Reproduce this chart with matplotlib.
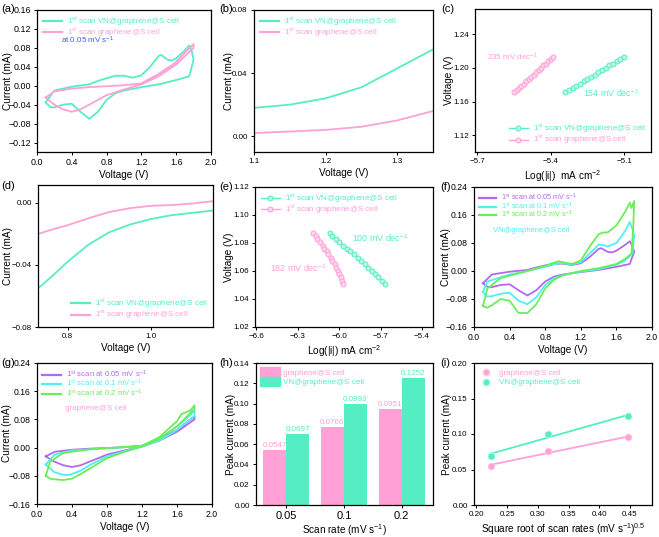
import numpy as np
import matplotlib
matplotlib.use("Agg")
import matplotlib.pyplot as plt
from matplotlib.patches import Patch
from matplotlib.lines import Line2D

plt.rcParams['font.family'] = ['Liberation Sans', 'DejaVu Sans']
plt.rcParams['mathtext.fontset'] = 'custom'
plt.rcParams['mathtext.rm'] = 'Liberation Sans'
plt.rcParams['mathtext.it'] = 'Liberation Sans'

teal = '#55eec4'
pink = '#ffa0d6'
purple = '#b468f0'
cyan = '#4ef0f0'
green = '#6aee58'
blue = '#4858ee'

W, H = 659, 537
fig = plt.figure(figsize=(W / 100, H / 100), dpi=100)

TICK = 6.2
LAB = 7.2
LEG = 5.8

# ---------------- data ----------------
# (a) CV at 0.05 mV/s, VN@graphene@S (anodic then cathodic)
a_vn_v = [0.1, 0.2, 0.4, 0.6, 0.7, 0.8, 0.9, 1.0, 1.1, 1.2, 1.3, 1.4, 1.43, 1.5, 1.55, 1.6, 1.7, 1.75, 1.78, 1.8,
          1.8, 1.75, 1.6, 1.4, 1.2, 1.0, 0.9, 0.8, 0.7, 0.6, 0.5, 0.4, 0.3, 0.2, 0.15, 0.1]
a_vn_i = [-0.035, -0.01, -0.002, 0.003, 0.01, 0.016, 0.021, 0.021, 0.017, 0.022, 0.04, 0.063, 0.065, 0.055, 0.053,
          0.058, 0.075, 0.085, 0.072, 0.055,
          0.055, 0.02, 0.012, 0.003, -0.003, -0.01, -0.016, -0.03, -0.055, -0.07, -0.055, -0.038, -0.04, -0.046,
          -0.045, -0.035]
a_g_v = [0.1, 0.2, 0.4, 0.6, 0.8, 1.0, 1.2, 1.4, 1.6, 1.7, 1.8,
         1.8, 1.6, 1.4, 1.2, 1.0, 0.8, 0.6, 0.5, 0.4, 0.3, 0.2, 0.1]
a_g_i = [-0.025, -0.012, -0.006, -0.003, -0.001, 0.001, 0.005, 0.025, 0.05, 0.07, 0.088,
         0.08, 0.045, 0.02, 0.003, -0.008, -0.02, -0.04, -0.05, -0.055, -0.05, -0.04, -0.025]

# (b) anodic onset region
b_v = [1.10, 1.15, 1.20, 1.25, 1.30, 1.35]
b_vn = [0.018, 0.020, 0.024, 0.031, 0.043, 0.055]
b_g = [0.002, 0.003, 0.004, 0.006, 0.010, 0.016]

# (c) Tafel, anodic
c_g_x = [-5.55, -5.54, -5.53, -5.52, -5.51, -5.50, -5.49, -5.48, -5.47, -5.46, -5.45, -5.44, -5.43, -5.42, -5.41, -5.40, -5.39]
c_g_y = [1.171, 1.174, 1.176, 1.179, 1.181, 1.184, 1.187, 1.189, 1.192, 1.195, 1.197, 1.200, 1.203, 1.205, 1.208, 1.211, 1.213]
c_vn_x = [-5.34, -5.325, -5.31, -5.295, -5.28, -5.265, -5.25, -5.235, -5.22, -5.205, -5.19, -5.175, -5.16, -5.145, -5.13, -5.115, -5.10]
c_vn_y = [1.171, 1.174, 1.176, 1.179, 1.181, 1.184, 1.187, 1.189, 1.192, 1.195, 1.197, 1.200, 1.203, 1.205, 1.208, 1.211, 1.213]

# (d) cathodic region
d_v = [0.73, 0.76, 0.80, 0.85, 0.90, 0.95, 1.00, 1.05, 1.10, 1.15]
d_vn = [-0.055, -0.048, -0.038, -0.027, -0.019, -0.014, -0.0105, -0.008, -0.0065, -0.005]
d_g = [-0.020, -0.0175, -0.0145, -0.010, -0.006, -0.0035, -0.002, -0.0015, -0.0005, 0.001]

# (e) Tafel, cathodic
e_vn_x = [-6.07, -6.05, -6.02, -6.00, -5.97, -5.94, -5.92, -5.89, -5.86, -5.84, -5.81, -5.79, -5.76, -5.74, -5.72, -5.69, -5.67]
e_vn_y = [1.087, 1.085, 1.083, 1.081, 1.078, 1.076, 1.074, 1.072, 1.069, 1.067, 1.065, 1.062, 1.060, 1.058, 1.056, 1.053, 1.051]
e_g_x = [-6.19, -6.17, -6.16, -6.14, -6.12, -6.11, -6.09, -6.08, -6.06, -6.05, -6.03, -6.02, -6.01, -6.00, -5.99, -5.98, -5.97]
e_g_y = [1.087, 1.085, 1.083, 1.081, 1.078, 1.076, 1.074, 1.072, 1.069, 1.067, 1.065, 1.062, 1.060, 1.058, 1.056, 1.053, 1.051]

# (f) VN@graphene@S at three scan rates
f1_v, f1_i = a_vn_v, a_vn_i
f2_v = [0.1, 0.15, 0.4, 0.6, 0.8, 0.95, 1.0, 1.1, 1.2, 1.3, 1.4, 1.45, 1.5, 1.6, 1.7, 1.75, 1.78, 1.8,
        1.8, 1.78, 1.7, 1.6, 1.4, 1.2, 1.0, 0.9, 0.8, 0.7, 0.6, 0.5, 0.4, 0.3, 0.2, 0.15, 0.1]
f2_i = [-0.06, -0.03, -0.01, 0.0, 0.012, 0.022, 0.022, 0.018, 0.025, 0.05, 0.075, 0.075, 0.07, 0.08, 0.115,
        0.14, 0.12, 0.10,
        0.10, 0.05, 0.03, 0.018, 0.005, -0.002, -0.012, -0.02, -0.04, -0.075, -0.095, -0.085, -0.062, -0.065,
        -0.072, -0.073, -0.06]
f3_v = [0.1, 0.15, 0.3, 0.6, 0.8, 0.95, 1.0, 1.1, 1.2, 1.3, 1.4, 1.45, 1.5, 1.6, 1.7, 1.75, 1.77, 1.8,
        1.79, 1.77, 1.7, 1.6, 1.4, 1.2, 1.0, 0.9, 0.8, 0.7, 0.6, 0.5, 0.4, 0.3, 0.2, 0.15, 0.1]
f3_i = [-0.10, -0.05, -0.02, 0.0, 0.015, 0.028, 0.025, 0.02, 0.03, 0.07, 0.105, 0.11, 0.11, 0.13, 0.17, 0.195,
        0.18, 0.20,
        0.13, 0.05, 0.035, 0.02, 0.008, 0.0, -0.012, -0.025, -0.05, -0.095, -0.12, -0.12, -0.085, -0.08,
        -0.098, -0.105, -0.10]

# (g) graphene@S at three scan rates
g1_v, g1_i = a_g_v, a_g_i
g2_v = [0.1, 0.2, 0.4, 0.8, 1.2, 1.4, 1.6, 1.7, 1.8,
        1.8, 1.6, 1.4, 1.2, 1.0, 0.8, 0.6, 0.5, 0.4, 0.35, 0.3, 0.2, 0.1]
g2_i = [-0.048, -0.02, -0.008, -0.002, 0.005, 0.025, 0.06, 0.08, 0.105,
        0.09, 0.05, 0.02, 0.003, -0.01, -0.025, -0.05, -0.065, -0.075, -0.078, -0.077, -0.07, -0.048]
g3_v = [0.1, 0.15, 0.3, 0.6, 1.2, 1.4, 1.6, 1.65, 1.7, 1.75, 1.8,
        1.8, 1.6, 1.4, 1.2, 1.0, 0.8, 0.6, 0.5, 0.4, 0.3, 0.2, 0.15, 0.1]
g3_i = [-0.08, -0.04, -0.015, -0.005, 0.005, 0.03, 0.075, 0.095, 0.10, 0.105, 0.12,
        0.11, 0.06, 0.025, 0.003, -0.012, -0.03, -0.06, -0.075, -0.088, -0.092, -0.09, -0.088, -0.08]

# (h)/(i) peak currents
rates = ['0.05', '0.1', '0.2']
sqrt_rate = [0.2236, 0.3162, 0.4472]
peak_g = [0.0547, 0.0766, 0.0951]
peak_vn = [0.0697, 0.0993, 0.1252]

lab_vn = r'1$^{st}$ scan VN@graphene@S cell'
lab_g = r'1$^{st}$ scan graphene@S cell'
lab_r = [r'1$^{st}$ scan at 0.05 mV s$^{-1}$', r'1$^{st}$ scan at 0.1 mV s$^{-1}$',
         r'1$^{st}$ scan at 0.2 mV s$^{-1}$']

LW = 1.3
MK = dict(marker='o', ms=3.6, mew=0.7)


def add_ax(l, t, r, b, ylab_x, tick=TICK):
    ax = fig.add_axes([l / W, 1 - b / H, (r - l) / W, (b - t) / H])
    ax.tick_params(labelsize=tick, length=2.5, width=0.7, pad=2, direction='out')
    for s in ax.spines.values():
        s.set_linewidth(0.9)
    # y label centre given in figure pixels
    ax.yaxis.set_label_coords((ylab_x + 4 - l) / (r - l), 0.5)
    return ax


def color_legend(ax, handles, labels, colors, loc, spacing=-0.15, fs=LEG, **kw):
    leg = ax.legend(handles, labels, loc=loc, frameon=False, fontsize=fs,
                    handlelength=2.4, handletextpad=0.6, labelspacing=spacing, borderaxespad=0.3, **kw)
    for t, c in zip(leg.get_texts(), colors):
        t.set_color(c)
    return leg


def panel(x, y, s):
    fig.text(x / W, 1 - y / H, s, fontsize=8, ha='left', va='center')


cv_y = [-0.12, -0.08, -0.04, 0.00, 0.04, 0.08, 0.12, 0.16]

# (a)
ax = add_ax(37, 10, 211, 152, 9, tick=6.4)
ax.plot(a_vn_v, a_vn_i, color=teal, lw=LW)
ax.plot(a_g_v, a_g_i, color=pink, lw=LW)
ax.set_xlim(0, 2.0)
ax.set_ylim(-0.14, 0.16)
ax.set_xticks([0.0, 0.4, 0.8, 1.2, 1.6, 2.0])
ax.set_yticks(cv_y)
ax.set_xlabel('Voltage (V)', fontsize=LAB, labelpad=2)
ax.set_ylabel('Current (mA)', fontsize=LAB)
color_legend(ax, [Line2D([], [], color=teal, lw=1.6), Line2D([], [], color=pink, lw=1.6)],
             [lab_vn, lab_g], [teal, pink], 'upper left')
ax.text(0.28, 0.095, r'at 0.05 mV s$^{-1}$', color=blue, fontsize=LEG, va='center')
panel(1, 9, '(a)')

# (b)
ax = add_ax(254, 10, 433, 152, 230, tick=5.8)
ax.plot(b_v, b_vn, color=teal, lw=LW)
ax.plot(b_v, b_g, color=pink, lw=LW)
ax.set_xlim(1.1, 1.35)
ax.set_ylim(-0.01, 0.08)
ax.set_xticks([1.1, 1.2, 1.3])
ax.set_yticks([0.00, 0.04, 0.08])
ax.set_xlabel('Voltage (V)', fontsize=LAB, labelpad=2)
ax.set_ylabel('Current (mA)', fontsize=LAB)
color_legend(ax, [Line2D([], [], color=teal, lw=1.6), Line2D([], [], color=pink, lw=1.6)],
             [lab_vn, lab_g], [teal, pink], 'upper left')
panel(219, 9, '(b)')

# (c)
ax = add_ax(475, 9, 651, 152, 450, tick=5.8)
ax.plot(c_vn_x, c_vn_y, color=teal, lw=1, mfc='#b8f8e4', mec=teal, **MK)
ax.plot(c_g_x, c_g_y, color=pink, lw=1, mfc='#ffd6ee', mec=pink, **MK)
ax.set_xlim(-5.71, -4.99)
ax.set_ylim(1.10, 1.27)
ax.set_xticks([-5.7, -5.4, -5.1])
ax.set_yticks([1.12, 1.16, 1.20, 1.24])
ax.set_xlabel(r'Log(|i|)  mA cm$^{-2}$', fontsize=LAB, labelpad=2)
ax.set_ylabel('Voltage (V)', fontsize=LAB)
ax.text(-5.661, 1.213, r'235 mV dec$^{-1}$', color=pink, fontsize=5.8, va='center')
ax.text(-5.268, 1.170, r'154 mV dec$^{-1}$', color=teal, fontsize=6.4, va='center')
color_legend(ax, [Line2D([], [], color=teal, lw=1, mfc='#b8f8e4', mec=teal, **MK),
                  Line2D([], [], color=pink, lw=1, mfc='#ffd6ee', mec=pink, **MK)],
             [lab_vn, lab_g], [teal, pink], 'lower right')
panel(441, 9, '(c)')

# (d)
ax = add_ax(38, 185, 213, 327, 9, tick=5.8)
ax.plot(d_v, d_vn, color=teal, lw=LW)
ax.plot(d_v, d_g, color=pink, lw=LW)
ax.set_xlim(0.729, 1.149)
ax.set_ylim(-0.08, 0.0114)
ax.set_xticks([0.8, 1.0])
ax.set_yticks([-0.08, -0.04, 0.00])
ax.set_xlabel('Voltage (V)', fontsize=LAB, labelpad=2)
ax.set_ylabel('Current (mA)', fontsize=LAB)
color_legend(ax, [Line2D([], [], color=teal, lw=1.6), Line2D([], [], color=pink, lw=1.6)],
             [lab_vn, lab_g], [teal, pink], 'lower right')
panel(1, 186, '(d)')

# (e)
ax = add_ax(255, 187, 433, 327, 230, tick=5.8)
ax.plot(e_vn_x, e_vn_y, color=teal, lw=1, mfc='#b8f8e4', mec=teal, **MK)
ax.plot(e_g_x, e_g_y, color=pink, lw=1, mfc='#ffd6ee', mec=pink, **MK)
ax.set_xlim(-6.61, -5.32)
ax.set_ylim(1.02, 1.12)
ax.set_xticks([-6.6, -6.3, -6.0, -5.7, -5.4])
ax.set_yticks([1.02, 1.04, 1.06, 1.08, 1.10, 1.12])
ax.set_xlabel(r'Log(|i|) mA cm$^{-2}$', fontsize=LAB, labelpad=2)
ax.set_ylabel('Voltage (V)', fontsize=LAB)
ax.text(-5.907, 1.0836, r'100 mV dec$^{-1}$', color=teal, fontsize=6.4, va='center')
ax.text(-6.50, 1.062, r'182 mV dec$^{-1}$', color=pink, fontsize=6.4, va='center')
color_legend(ax, [Line2D([], [], color=teal, lw=1, mfc='#b8f8e4', mec=teal, **MK),
                  Line2D([], [], color=pink, lw=1, mfc='#ffd6ee', mec=pink, **MK)],
             [lab_vn, lab_g], [teal, pink], 'upper left')
panel(219, 187, '(e)')

# (f)
ax = add_ax(474, 187, 652, 327, 447, tick=6.2)
ax.plot(f1_v, f1_i, color=purple, lw=LW)
ax.plot(f2_v, f2_i, color=cyan, lw=LW)
ax.plot(f3_v, f3_i, color=green, lw=LW)
ax.set_xlim(0, 2.0)
ax.set_ylim(-0.16, 0.24)
ax.set_xticks([0.0, 0.4, 0.8, 1.2, 1.6, 2.0])
ax.set_yticks([-0.16, -0.08, 0.00, 0.08, 0.16, 0.24])
ax.set_xlabel('Voltage (V)', fontsize=LAB, labelpad=2)
ax.set_ylabel('Current (mA)', fontsize=LAB)
color_legend(ax, [Line2D([], [], color=c, lw=1.6) for c in (purple, cyan, green)],
             lab_r, [purple, cyan, green], 'upper left', spacing=-0.38, fs=5.2)
ax.text(0.21, 0.117, 'VN@graphene@S cell', color=cyan, fontsize=5.4, va='center')
panel(440, 187, '(f)')

# (g)
ax = add_ax(37, 363, 212, 504, 8, tick=6.2)
ax.plot(g1_v, g1_i, color=purple, lw=LW)
ax.plot(g2_v, g2_i, color=cyan, lw=LW)
ax.plot(g3_v, g3_i, color=green, lw=LW)
ax.set_xlim(0, 2.0)
ax.set_ylim(-0.16, 0.24)
ax.set_xticks([0.0, 0.4, 0.8, 1.2, 1.6, 2.0])
ax.set_yticks([-0.16, -0.08, 0.00, 0.08, 0.16, 0.24])
ax.set_xlabel('Voltage (V)', fontsize=LAB, labelpad=2)
ax.set_ylabel('Current (mA)', fontsize=LAB)
color_legend(ax, [Line2D([], [], color=c, lw=1.6) for c in (purple, cyan, green)],
             lab_r, [purple, cyan, green], 'upper left', spacing=-0.2, fs=5.6)
ax.text(0.32, 0.11, 'graphene@S cell', color=pink, fontsize=LEG, va='center')
panel(1, 363, '(g)')

# (h)
ax = add_ax(256, 363, 433, 505, 232, tick=5.8)
xpos = np.arange(len(rates))
bw = 0.4
ax.bar(xpos - bw / 2, peak_g, bw, color=pink)
ax.bar(xpos + bw / 2, peak_vn, bw, color=teal)
for x, v in zip(xpos, peak_g):
    ax.text(x - bw / 2, v + 0.0008, f'{v:.4f}', color=pink, fontsize=LEG, ha='center', va='bottom')
for x, v in zip(xpos, peak_vn):
    ax.text(x + bw / 2, v + 0.0008, f'{v:.4f}', color=teal, fontsize=LEG, ha='center', va='bottom')
ax.set_xlim(-0.52, 2.54)
ax.set_ylim(0, 0.14)
ax.set_xticks(xpos)
ax.set_xticklabels(rates, fontsize=8)
ax.set_yticks(np.arange(0, 0.141, 0.02))
ax.set_yticklabels([f'{v:.2f}' for v in np.arange(0, 0.141, 0.02)])
ax.set_xlabel(r'Scan rate (mV s$^{-1}$)', fontsize=LAB, labelpad=0.5)
ax.set_ylabel('Peak current (mA)', fontsize=LAB)
leg = ax.legend([Patch(color=pink), Patch(color=teal)], ['graphene@S cell', 'VN@graphene@S cell'],
                loc='upper left', frameon=False, fontsize=LEG, handlelength=2.4, handleheight=1.35,
                handletextpad=0.4, labelspacing=0.0, borderaxespad=0.15)
for t, c in zip(leg.get_texts(), [pink, teal]):
    t.set_color(c)
panel(219, 363, '(h)')

# (i)
ax = add_ax(474, 363, 652, 505, 448, tick=5.8)
xs = np.array(sqrt_rate)
kg = np.polyfit(xs, peak_g, 1)
kv = np.polyfit(xs, peak_vn, 1)
ax.plot(xs, np.polyval(kg, xs), color=pink, lw=LW)
ax.plot(xs, np.polyval(kv, xs), color=teal, lw=LW)
ax.plot(xs, peak_g, 'o', ms=5, mfc=pink, mec='#ffd6ee', mew=0.6)
ax.plot(xs, peak_vn, 'o', ms=5, mfc=teal, mec='#b8f8e4', mew=0.6)
ax.set_xlim(0.196, 0.486)
ax.set_ylim(0, 0.2)
ax.set_xticks([0.20, 0.25, 0.30, 0.35, 0.40, 0.45])
ax.set_yticks([0.00, 0.05, 0.10, 0.15, 0.20])
ax.set_xlabel(r'Square root of scan rates (mV s$^{-1}$)$^{0.5}$', fontsize=LAB, labelpad=2)
ax.set_ylabel('Peak current (mA)', fontsize=LAB)
leg = ax.legend([Line2D([], [], ls='', marker='o', ms=5, mfc=pink, mec='#ffd6ee'),
                 Line2D([], [], ls='', marker='o', ms=5, mfc=teal, mec='#b8f8e4')],
                ['graphene@S cell', 'VN@graphene@S cell'], loc='upper left', frameon=False,
                fontsize=LEG, handlelength=1.5, handletextpad=0.8, labelspacing=0.2, borderaxespad=0.4)
for t, c in zip(leg.get_texts(), [pink, teal]):
    t.set_color(c)
panel(440, 363, '(i)')

fig.savefig('out.png', dpi=100)
